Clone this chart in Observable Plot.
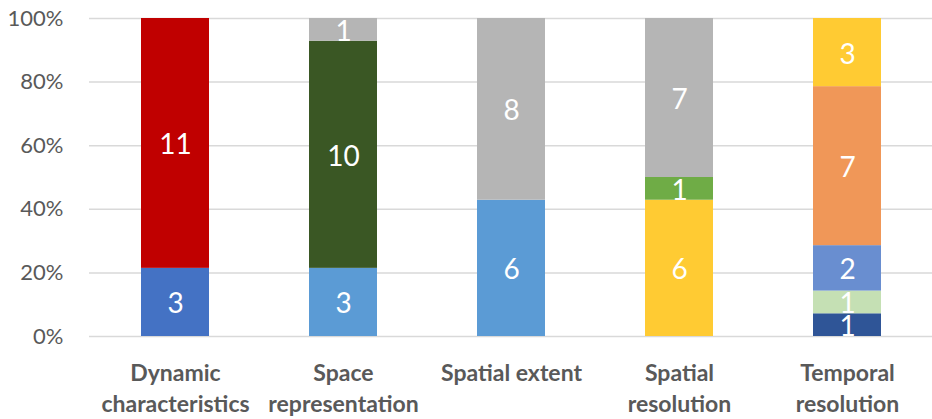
<!DOCTYPE html>
<html>
<head>
<meta charset="utf-8">
<script src="https://cdn.jsdelivr.net/npm/d3@7"></script>
<script src="https://cdn.jsdelivr.net/npm/@observablehq/plot@0.6"></script>
<style>
  html, body { margin: 0; padding: 0; background: #fff; }
  #chart svg { display: block; }
</style>
</head>
<body>
<div id="chart"></div>
<script>
// Categories (x axis)
const categories = ["Dynamic characteristics", "Space representation", "Spatial extent", "Spatial resolution", "Temporal resolution"];
const categoryLabels = ["Dynamic\ncharacteristics", "Space\nrepresentation", "Spatial extent", "Spatial\nresolution", "Temporal\nresolution"];

// Segment values per category, stacked bottom to top
const dynamicCharacteristics = [3, 11];
const spaceRepresentation = [3, 10, 1];
const spatialExtent = [6, 8];
const spatialResolution = [6, 1, 7];
const temporalResolution = [1, 1, 2, 7, 3];

// Segment colours per category (bottom to top)
const dynamicColors = ["#4472C4", "#C00000"];
const spaceRepColors = ["#5B9BD5", "#3A5724", "#B5B5B5"];
const extentColors = ["#5B9BD5", "#B5B5B5"];
const spatialResColors = ["#FFCB33", "#6FAC46", "#B5B5B5"];
const temporalResColors = ["#2F5597", "#C5E0B4", "#698ED0", "#F09758", "#FFCB33"];

// Y tick values
const yTicks = [0, 0.2, 0.4, 0.6, 0.8, 1];

const seriesValues = [dynamicCharacteristics, spaceRepresentation, spatialExtent, spatialResolution, temporalResolution];
const seriesColors = [dynamicColors, spaceRepColors, extentColors, spatialResColors, temporalResColors];

const rows = [];
categories.forEach((c, ci) => {
  seriesValues[ci].forEach((v, si) => {
    rows.push({category: c, order: si, value: v, color: seriesColors[ci][si]});
  });
});

const labelOf = new Map(categories.map((c, i) => [c, categoryLabels[i]]));
const FONT = "Lato, 'Open Sans', sans-serif";

const chart = Plot.plot({
  width: 932,
  height: 419,
  marginLeft: 89,
  marginRight: 0,
  marginTop: 18,
  marginBottom: 83,
  style: {fontFamily: FONT, background: "#fff"},
  x: {domain: categories, paddingInner: 0.597, paddingOuter: 0.2985, align: 0.5, label: null},
  y: {domain: [0, 1], label: null},
  color: {type: "identity"},
  marks: [
    Plot.gridY(yTicks, {stroke: "#D9D9D9", strokeOpacity: 1, strokeWidth: 1.5}),
    Plot.barY(rows, Plot.stackY({
      x: "category",
      y: "value",
      fill: "color",
      order: null,
      offset: "normalize"
    })),
    Plot.text(rows, Plot.stackY({
      x: "category",
      y: "value",
      text: d => String(d.value),
      order: null,
      offset: "normalize",
      fill: "white",
      fontSize: 28,
      dy: 2
    })),
    Plot.axisY(yTicks, {
      tickSize: 0,
      tickPadding: 26,
      tickFormat: d => Math.round(d * 100) + "%",
      fontSize: 22,
      fill: "#595959",
      label: null
    }),
    Plot.axisX({
      tickSize: 0,
      tickPadding: 22,
      tickFormat: d => labelOf.get(d),
      fontSize: 23,
      fontWeight: "bold",
      fill: "#595959",
      lineHeight: 1.35,
      textOverflow: null,
      label: null
    })
  ]
});

document.getElementById("chart").appendChild(chart);
</script>
</body>
</html>
